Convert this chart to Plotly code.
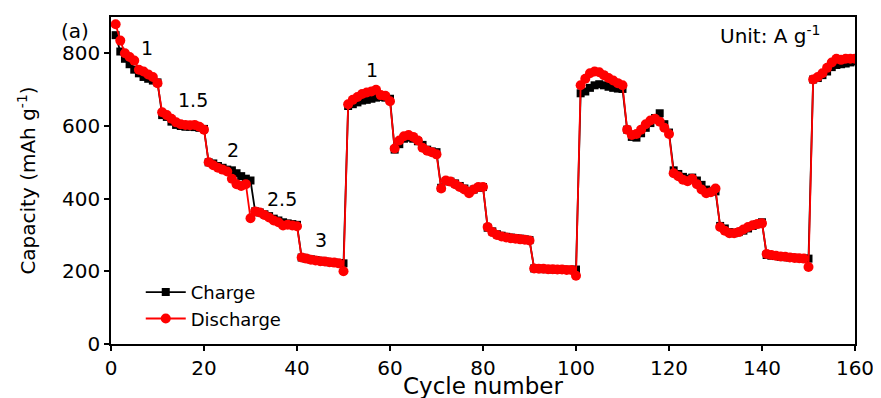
import plotly.graph_objects as go

cycles = list(range(1, 161))

charge = [
    850, 805, 785, 770, 755, 745, 735, 730, 725, 720,
    630, 625, 612, 603, 600, 598, 598, 597, 595, 592,
    500, 497, 490, 485, 480, 478, 470, 462, 455, 450,
    365, 362, 357, 352, 345, 340, 335, 332, 330, 328,
    238, 235, 233, 231, 229, 227, 225, 224, 223, 222,
    655, 660, 665, 670, 672, 675, 678, 680, 678, 675,
    535, 550, 565, 568, 565, 558, 548, 535, 530, 528,
    430, 448, 447, 442, 435, 428, 420, 425, 430, 432,
    320, 310, 302, 298, 295, 293, 291, 290, 288, 286,
    208, 207, 206, 206, 205, 205, 205, 204, 204, 205,
    690, 695, 705, 712, 715, 712, 708, 705, 703, 702,
    590, 570, 568, 580, 595, 608, 622, 635, 605, 582,
    478, 468, 460, 455, 458, 450, 438, 425, 420, 420,
    325, 318, 308, 305, 308, 312, 318, 325, 330, 335,
    245, 243, 242, 240, 239, 238, 237, 236, 235, 235,
    728, 732, 740, 750, 762, 768, 770, 772, 775, 778,
]

discharge = [
    880, 835, 800, 790, 780, 755, 750, 742, 735, 718,
    638, 630, 620, 610, 605, 603, 602, 603, 598, 590,
    500, 492, 485, 480, 475, 455, 440, 435, 440, 346,
    365, 362, 355, 348, 340, 335, 326, 328, 326, 324,
    238, 235, 232, 230, 228, 227, 225, 224, 222, 200,
    660, 672, 680, 688, 692, 695, 700, 685, 683, 668,
    538, 560, 572, 575, 570, 560, 540, 532, 528, 522,
    428, 450, 447, 440, 432, 425, 415, 425, 432, 432,
    322, 308, 300, 296, 293, 291, 290, 288, 287, 285,
    208, 207, 207, 206, 206, 205, 205, 204, 204, 188,
    712, 730, 745, 750, 748, 740, 732, 725, 718, 712,
    590, 575, 578, 590, 605, 615, 620, 612, 595, 578,
    470, 462, 452, 448, 455, 440, 425, 415, 418, 428,
    322, 312, 305, 305, 308, 315, 322, 327, 330, 332,
    248, 245, 243, 241, 240, 238, 237, 236, 235, 212,
    728, 735, 745, 760, 775, 785, 782, 785, 785, 785,
]

rate_labels = ["1", "1.5", "2", "2.5", "3", "1"]
rate_label_x = [7.7, 17.6, 26.2, 36.8, 45.2, 56.1]
rate_label_y = [814, 671, 533, 399, 286, 753]

x_ticks = [0, 20, 40, 60, 80, 100, 120, 140, 160]
y_ticks = [0, 200, 400, 600, 800]

FONT = "DejaVu Sans"

fig = go.Figure()
fig.add_trace(go.Scatter(
    x=cycles, y=charge, name="Charge", mode="lines+markers",
    line=dict(color="#000000", width=1.8),
    marker=dict(symbol="square", size=8, color="#000000"),
))
fig.add_trace(go.Scatter(
    x=cycles, y=discharge, name="Discharge", mode="lines+markers",
    line=dict(color="#ff0000", width=1.8),
    marker=dict(symbol="circle", size=10, color="#ff0000"),
))

for t, x, y in zip(rate_labels, rate_label_x, rate_label_y):
    fig.add_annotation(x=x, y=y, text=t, showarrow=False,
                       font=dict(family=FONT, size=19, color="#000000"))

fig.add_annotation(x=153.1, y=850, text="Unit: A g<sup>-1</sup>", showarrow=False,
                   xanchor="right", yanchor="middle",
                   font=dict(family=FONT, size=20, color="#000000"))
fig.add_annotation(x=-0.048, y=0.957, xref="paper", yref="paper", text="(a)",
                   xanchor="center", yanchor="middle",
                   showarrow=False, font=dict(family=FONT, size=20, color="#000000"))
# x-axis title placed explicitly just above the bottom edge
fig.add_annotation(x=0.5, y=-0.128, xref="paper", yref="paper", text="Cycle number",
                   xanchor="center", yanchor="middle", showarrow=False,
                   font=dict(family=FONT, size=23, color="#000000"))

axis_common = dict(
    showgrid=False, zeroline=False, showline=True, linecolor="#000000",
    linewidth=1.6, ticks="outside", ticklen=5, tickwidth=1.6, tickcolor="#000000",
    tickfont=dict(family=FONT, size=20, color="#000000"), automargin=False,
)

# page body has an 8px default margin; the figure is sized to fit the window
fig.update_layout(
    width=873, height=390,
    margin=dict(l=103, r=26, t=9, b=54),
    paper_bgcolor="white", plot_bgcolor="white",
    showlegend=True,
    legend=dict(x=0.04, y=0.118, xanchor="left", yanchor="middle",
                bgcolor="rgba(0,0,0,0)", font=dict(family=FONT, size=18, color="#000000"),
                itemwidth=40, tracegroupgap=0),
    xaxis=dict(range=[0, 160], tickvals=x_ticks, mirror=True, **axis_common),
    yaxis=dict(range=[0, 900], tickvals=y_ticks, mirror=True,
               title=dict(text="Capacity (mAh g<sup>-1</sup>)", standoff=21,
                          font=dict(family=FONT, size=20, color="#000000")),
               **axis_common),
    xaxis2=dict(overlaying="x", side="top", range=[0, 160], tickvals=x_ticks,
                ticks="inside", ticklen=4, tickwidth=1.4, tickcolor="#000000",
                showticklabels=False, showgrid=False, zeroline=False, showline=False),
    yaxis2=dict(overlaying="y", side="right", range=[0, 900], tickvals=y_ticks,
                ticks="inside", ticklen=4, tickwidth=1.4, tickcolor="#000000",
                showticklabels=False, showgrid=False, zeroline=False, showline=False),
)

fig.write_html("out.html")
